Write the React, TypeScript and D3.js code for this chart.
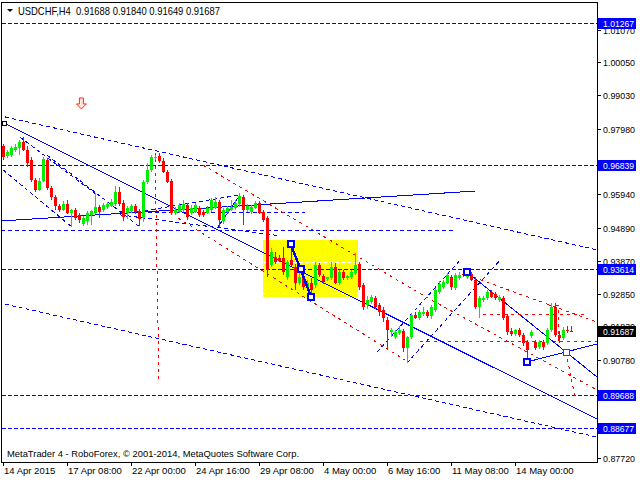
import React from "react";
import * as d3 from "d3";

// ---------- data ----------
const opens = [
  0.9744, 0.9713, 0.9716, 0.9732, 0.9738, 0.9757, 0.9732, 0.9701, 0.9639, 0.9607,
  0.9635, 0.9701, 0.9614, 0.9586, 0.9558, 0.9545, 0.9564, 0.9536, 0.9545, 0.953,
  0.9502, 0.9511, 0.953, 0.9536, 0.9554, 0.9545, 0.9554, 0.9558, 0.9564, 0.9601,
  0.9567, 0.9536, 0.9542, 0.9558, 0.9542, 0.952, 0.9632, 0.967, 0.9707, 0.9713,
  0.9698, 0.9663, 0.9635, 0.9536, 0.9539, 0.9545, 0.9561, 0.9536, 0.9539, 0.9551,
  0.9539, 0.9536, 0.9545, 0.9551, 0.957, 0.9511, 0.9539, 0.9545, 0.9551, 0.9564,
  0.9586, 0.9545, 0.9539, 0.9551, 0.9567, 0.9539, 0.952, 0.9374, 0.9399, 0.9396,
  0.9396, 0.9336, 0.9389, 0.9368, 0.9318, 0.9336, 0.9305, 0.9318, 0.9311, 0.9374,
  0.934, 0.933, 0.9333, 0.9367, 0.9318, 0.9352, 0.9333, 0.9336, 0.9349, 0.9377,
  0.9312, 0.9249, 0.9258, 0.9271, 0.9249, 0.9234, 0.9203, 0.9165, 0.915, 0.9162,
  0.9168, 0.9115, 0.915, 0.9218, 0.9209, 0.9221, 0.9227, 0.9215, 0.9234, 0.929,
  0.9305, 0.9318, 0.9336, 0.9302, 0.9333, 0.9346, 0.9336, 0.9346, 0.9327, 0.9243,
  0.9265, 0.9271, 0.929, 0.9283, 0.9265, 0.9271, 0.9215, 0.9168, 0.9159, 0.9171,
  0.9156, 0.9134, 0.9153, 0.9134, 0.9118, 0.9134, 0.9131, 0.9171, 0.9243, 0.9156,
  0.9146, 0.9171, 0.91688,
];
const highs = [
  0.9751, 0.9732, 0.9744, 0.9751, 0.9763, 0.9772, 0.9744, 0.971, 0.9645, 0.9645,
  0.971, 0.9707, 0.962, 0.9592, 0.9564, 0.9573, 0.9576, 0.9548, 0.9551, 0.9536,
  0.9526, 0.9542, 0.9545, 0.9598, 0.9561, 0.9567, 0.957, 0.9579, 0.962, 0.9617,
  0.9576, 0.9558, 0.9564, 0.9564, 0.9548, 0.9639, 0.9691, 0.9716, 0.9716, 0.9723,
  0.9707, 0.967, 0.9642, 0.9554, 0.9567, 0.9576, 0.9567, 0.9561, 0.9567, 0.9558,
  0.9545, 0.9558, 0.9582, 0.9586, 0.9576, 0.9551, 0.9558, 0.9576, 0.9576, 0.9598,
  0.9592, 0.9564, 0.9561, 0.9573, 0.9573, 0.9545, 0.9526, 0.9427, 0.9414, 0.9405,
  0.943, 0.9389, 0.9421, 0.9377, 0.9358, 0.9343, 0.9327, 0.9333, 0.9383, 0.938,
  0.9346, 0.9336, 0.9383, 0.938, 0.9358, 0.9358, 0.9343, 0.9358, 0.9411, 0.9383,
  0.9318, 0.9277, 0.928, 0.9277, 0.9255, 0.9243, 0.9212, 0.9178, 0.9171, 0.9184,
  0.9174, 0.9153, 0.9224, 0.9227, 0.9234, 0.9243, 0.9234, 0.9249, 0.9302, 0.9324,
  0.9327, 0.9349, 0.9343, 0.9349, 0.9352, 0.9352, 0.9358, 0.9352, 0.9333, 0.9277,
  0.9277, 0.9296, 0.9296, 0.929, 0.928, 0.9277, 0.9221, 0.9178, 0.9174, 0.9178,
  0.9162, 0.914, 0.9171, 0.914, 0.914, 0.914, 0.9178, 0.9255, 0.9255, 0.9168,
  0.9181, 0.9184, 0.9184,
];
const lows = [
  0.9701, 0.9707, 0.971, 0.9726, 0.9716, 0.9729, 0.9679, 0.9632, 0.9601, 0.9604,
  0.9632, 0.9607, 0.9576, 0.9545, 0.9539, 0.9542, 0.9533, 0.9492, 0.9514, 0.9505,
  0.9495, 0.9498, 0.9498, 0.9533, 0.952, 0.9539, 0.9548, 0.9554, 0.9558, 0.9558,
  0.9511, 0.9517, 0.9536, 0.9533, 0.9495, 0.9508, 0.9626, 0.9663, 0.9701, 0.9691,
  0.966, 0.9629, 0.953, 0.953, 0.9536, 0.9539, 0.9514, 0.953, 0.9536, 0.9523,
  0.9523, 0.9533, 0.9539, 0.9548, 0.9492, 0.9502, 0.9536, 0.9542, 0.9545, 0.9554,
  0.9498, 0.9539, 0.9533, 0.9548, 0.9533, 0.9508, 0.9336, 0.9367, 0.9377, 0.9383,
  0.9343, 0.9327, 0.9371, 0.9296, 0.9312, 0.9296, 0.9299, 0.9274, 0.9302, 0.9336,
  0.9315, 0.9324, 0.9327, 0.9315, 0.9312, 0.9327, 0.9327, 0.933, 0.9343, 0.9296,
  0.9234, 0.9237, 0.9252, 0.9237, 0.9215, 0.9196, 0.9109, 0.915, 0.9143, 0.9156,
  0.9103, 0.9069, 0.9143, 0.9206, 0.9202, 0.9215, 0.9209, 0.9206, 0.9227, 0.9283,
  0.9299, 0.9315, 0.9296, 0.9296, 0.9327, 0.9336, 0.933, 0.9324, 0.9237, 0.9209,
  0.9258, 0.9265, 0.9271, 0.9265, 0.9258, 0.9202, 0.9156, 0.9153, 0.9153, 0.915,
  0.9121, 0.9081, 0.9146, 0.9109, 0.9112, 0.9109, 0.9125, 0.9165, 0.915, 0.913,
  0.914, 0.9162, 0.91649,
];
const closes = [
  0.971, 0.9726, 0.9738, 0.9741, 0.9757, 0.9732, 0.9691, 0.9639, 0.9607, 0.9635,
  0.9704, 0.9614, 0.9586, 0.9558, 0.9545, 0.9564, 0.9536, 0.9545, 0.952, 0.9514,
  0.952, 0.9536, 0.9542, 0.9554, 0.9539, 0.9561, 0.9564, 0.957, 0.9601, 0.9564,
  0.9523, 0.9551, 0.9558, 0.9539, 0.9517, 0.9632, 0.967, 0.971, 0.971, 0.9698,
  0.9663, 0.9632, 0.9536, 0.9545, 0.9561, 0.9564, 0.9523, 0.9551, 0.9561, 0.953,
  0.953, 0.9551, 0.9576, 0.957, 0.9514, 0.9545, 0.9551, 0.9554, 0.9567, 0.9589,
  0.9545, 0.9558, 0.9554, 0.9567, 0.9536, 0.9514, 0.9358, 0.9414, 0.9383, 0.9386,
  0.9352, 0.9383, 0.9374, 0.9318, 0.9336, 0.9305, 0.9318, 0.9296, 0.9374, 0.9343,
  0.9321, 0.9336, 0.9367, 0.9318, 0.9352, 0.9333, 0.934, 0.9352, 0.9374, 0.9305,
  0.9243, 0.9265, 0.9274, 0.9243, 0.9227, 0.9209, 0.9171, 0.9171, 0.9165, 0.9171,
  0.9115, 0.915, 0.9218, 0.9209, 0.9227, 0.9227, 0.9215, 0.9243, 0.9296, 0.9315,
  0.9321, 0.9343, 0.9305, 0.9343, 0.9343, 0.9343, 0.9349, 0.9327, 0.9243, 0.9271,
  0.9271, 0.929, 0.9274, 0.9271, 0.9274, 0.9209, 0.9165, 0.9159, 0.9171, 0.9156,
  0.9131, 0.9109, 0.9165, 0.9115, 0.9134, 0.9118, 0.9171, 0.9243, 0.9156, 0.9146,
  0.9171, 0.9168, 0.91687,
];

const xTickIndex = [0, 16, 32, 48, 64, 80, 96, 112, 128];
const xTickLabels = [
  "14 Apr 2015", "17 Apr 08:00", "22 Apr 00:00", "24 Apr 16:00", "29 Apr 08:00",
  "4 May 00:00", "6 May 16:00", "11 May 08:00", "14 May 00:00",
];
// tick labels (0.89760 and 0.88740 are fully covered by level boxes in the source)
const yTicks = [
  1.0107, 1.0005, 0.9903, 0.9798, 0.9696, 0.9594, 0.9489, 0.9387, 0.9285,
  0.9183, 0.9078, 0.8772,
];
const levelPrices = [1.01267, 0.96839, 0.93614, 0.89688, 0.88677];
const currentPrice = 0.91687;
const titleText = "USDCHF,H4  0.91688 0.91840 0.91649 0.91687";
const footerText = "MetaTrader 4 - RoboForex, \u00a9 2001-2014, MetaQuotes Software Corp.";

// drawing objects in (bar index, price)
type Seg = [number, number][];
const blueSolid: Seg[] = [
  [[0.2, 0.9816], [148.5, 0.8894]],
  [[-0.5, 0.9511], [118, 0.9604]],
  [[116, 0.9352], [148.5, 0.9025]],
  [[131, 0.9072], [148.5, 0.9128]],
  [[53.75, 0.9493], [59.25, 0.9592]],
];
const blueThick: Seg[] = [[[71.9, 0.9439], [74.4, 0.9361], [77, 0.9275]]];
const blueDashed: Seg[] = [
  [[0.5, 0.9835], [148.5, 0.9421]],
  [[0.5, 0.9252], [148.5, 0.8838]],
  [[0, 0.967], [17.25, 0.9492]],
  [[4.25, 0.9772], [23.5, 0.9592]],
  [[11, 0.9716], [34.25, 0.9492]],
  [[33.5, 0.9539], [59.25, 0.9592]],
  [[29.25, 0.9539], [75.5, 0.9536]],
  [[29.25, 0.953], [69.25, 0.9465]],
  [[93.5, 0.9103], [114.25, 0.9389]],
  [[101, 0.9069], [124.25, 0.9389]],
  [[-0.5, 0.9481], [113, 0.9481]],
];
const redDashed: Seg[] = [
  [[38, 0.9726], [39, 0.901]],
  [[50, 0.9685], [106.75, 0.9267], [148.5, 0.8985]],
  [[43.75, 0.952], [100.5, 0.9078]],
  [[116, 0.9343], [148.5, 0.9196]],
  [[104.25, 0.9137], [148.5, 0.9137]],
  [[120, 0.9221], [146, 0.9221]],
  [[140.75, 0.9103], [143, 0.8963], [143.75, 0.8963]],
  [[136.5, 0.9249], [138.75, 0.9249], [138.75, 0.9134]],
];
const yellowBox = { i0: 65, i1: 88.75, pTop: 0.9452, pBottom: 0.9274 };
const yellowInnerLevels = [0.9384, 0.9286];
const blueMarkers: [number, number][] = [
  [71.9, 0.9439], [74.4, 0.9361], [77, 0.9275], [116, 0.9352], [131, 0.9072],
];
const blackMarkers: [number, number][] = [[0.2, 0.9816]];
const redMarkers: [number, number][] = [[140.75, 0.9103]];
const arrowAnchor: [number, number] = [19.6, 0.9894];

const FONT = "'Liberation Sans', Arial, sans-serif";
const BLUE = "#0000ff";
const RED = "#ff0000";
const GREEN = "#00ee00";

export default function App() {
  const L = 2, R = 597, T = 2, B = 462;
  const x = d3.scaleLinear().domain([0, 148.5]).range([3, 597]);
  const y = d3.scaleLinear().domain([0.8772, 1.0005]).range([458.3, 62.3]);
  const line = d3
    .line<[number, number]>()
    .x((d) => x(d[0]))
    .y((d) => y(d[1]));

  const candles = opens.map((o, i) => {
    const c = closes[i];
    const up = c >= o;
    const col = up ? GREEN : RED;
    const cx = Math.round(x(i));
    const yTop = Math.round(y(Math.max(o, c)));
    const yBot = Math.round(y(Math.min(o, c)));
    return (
      <g key={i}>
        <line x1={cx + 0.5} x2={cx + 0.5} y1={Math.round(y(highs[i]))} y2={Math.round(y(lows[i]))} stroke={col} />
        <rect x={cx - 1} y={yTop} width={3} height={Math.max(1, yBot - yTop)} fill={col} />
      </g>
    );
  });

  const ax = x(arrowAnchor[0]);
  const ay = y(arrowAnchor[1]);
  const arrowPath = `M${ax - 2},${ay} L${ax + 2},${ay} L${ax + 2},${ay + 6} L${ax + 5},${ay + 6} L${ax},${ay + 11} L${ax - 5},${ay + 6} L${ax - 2},${ay + 6} Z`;

  const box = (p: number, fill: string, key: string) => {
    const yy = Math.round(y(p));
    return (
      <g key={key}>
        <rect x={598} y={yy - 5} width={38} height={11} fill={fill} />
        <text x={603} y={yy + 3.5} fontSize={9} fill="#ffffff" fontFamily={FONT} textLength={31} lengthAdjust="spacingAndGlyphs">
          {p.toFixed(5)}
        </text>
      </g>
    );
  };

  return (
    <div style={{ position: "fixed", left: 0, top: 0, width: 640, height: 480, background: "#fff" }}>
      <svg width={640} height={480} style={{ display: "block" }}>
        <rect x={0} y={0} width={640} height={480} fill="#ffffff" />
        <defs>
          <clipPath id="plot">
            <rect x={L} y={T} width={R - L} height={B - T} />
          </clipPath>
        </defs>
        <g clipPath="url(#plot)" shapeRendering="crispEdges">
          <rect
            x={x(yellowBox.i0)}
            y={y(yellowBox.pTop)}
            width={x(yellowBox.i1) - x(yellowBox.i0)}
            height={y(yellowBox.pBottom) - y(yellowBox.pTop)}
            fill="#ffff00"
          />
          {yellowInnerLevels.map((p, k) => (
            <line key={k} x1={x(yellowBox.i0)} x2={x(yellowBox.i1)} y1={Math.round(y(p)) + 0.5} y2={Math.round(y(p)) + 0.5} stroke="#ffffff" strokeDasharray="4,2" />
          ))}
          {levelPrices.map((p, k) => (
            <line key={k} x1={L} x2={R} y1={Math.round(y(p)) + 0.5} y2={Math.round(y(p)) + 0.5} stroke={BLUE} strokeDasharray="4,2" />
          ))}
          {blueDashed.map((s, k) => (
            <path key={k} d={line(s) || ""} fill="none" stroke={BLUE} strokeDasharray="4,3" />
          ))}
          {redDashed.map((s, k) => (
            <path key={k} d={line(s) || ""} fill="none" stroke={RED} strokeDasharray="3,4" />
          ))}
          {blueSolid.map((s, k) => (
            <path key={k} d={line(s) || ""} fill="none" stroke={BLUE} />
          ))}
          {candles}
          {blueThick.map((s, k) => (
            <path key={k} d={line(s) || ""} fill="none" stroke={BLUE} strokeWidth={2.5} />
          ))}
          {blueMarkers.map((m, k) => (
            <rect key={k} x={Math.round(x(m[0])) - 3} y={Math.round(y(m[1])) - 3} width={6} height={6} fill="#ffffff" stroke={BLUE} strokeWidth={2} />
          ))}
          {redMarkers.map((m, k) => (
            <rect key={k} x={Math.round(x(m[0])) - 3} y={Math.round(y(m[1])) - 3} width={6} height={6} fill="#ffffff" stroke={RED} strokeWidth={1} />
          ))}
          {blackMarkers.map((m, k) => (
            <rect key={k} x={Math.round(x(m[0])) - 2} y={Math.round(y(m[1])) - 2} width={4} height={4} fill="#ffffff" stroke="#000" strokeWidth={1} />
          ))}
        </g>
        <path d={arrowPath} fill="#ffe4e4" stroke="#ff3300" strokeWidth={1} />

        {/* frame */}
        <rect x={L - 0.5} y={T + 0.5} width={R - L + 0.5} height={B - T} fill="none" stroke="#000" shapeRendering="crispEdges" />

        {/* right axis */}
        {yTicks.map((p, k) => {
          const yy = Math.round(y(p));
          return (
            <g key={k}>
              <line x1={R} x2={R + 4} y1={yy + 0.5} y2={yy + 0.5} stroke="#000" shapeRendering="crispEdges" />
              <text x={603} y={yy + 3.5} fontSize={9} fill="#000" fontFamily={FONT} textLength={32} lengthAdjust="spacingAndGlyphs">
                {p.toFixed(5)}
              </text>
            </g>
          );
        })}
        {levelPrices.map((p, k) => box(p, BLUE, "lv" + k))}
        {box(currentPrice, "#000000", "cur")}

        {/* bottom axis */}
        {xTickIndex.map((i, k) => {
          const xx = Math.round(x(i));
          return (
            <g key={k}>
              <line x1={xx + 0.5} x2={xx + 0.5} y1={B} y2={B + 4} stroke="#000" shapeRendering="crispEdges" />
              <text x={xx + 1} y={474} fontSize={9.5} fill="#000" fontFamily={FONT}>
                {xTickLabels[k]}
              </text>
            </g>
          );
        })}

        {/* title */}
        <path d="M7,9 L13,9 L10,12 Z" fill="#000" />
        <text x={18} y={14.5} fontSize={10.5} fill="#000" fontFamily={FONT} style={{ whiteSpace: "pre" }} textLength={202} lengthAdjust="spacingAndGlyphs">
          {titleText}
        </text>
        <text x={7} y={457} fontSize={9.5} fill="#000" fontFamily={FONT} textLength={292} lengthAdjust="spacingAndGlyphs">
          {footerText}
        </text>
      </svg>
    </div>
  );
}
